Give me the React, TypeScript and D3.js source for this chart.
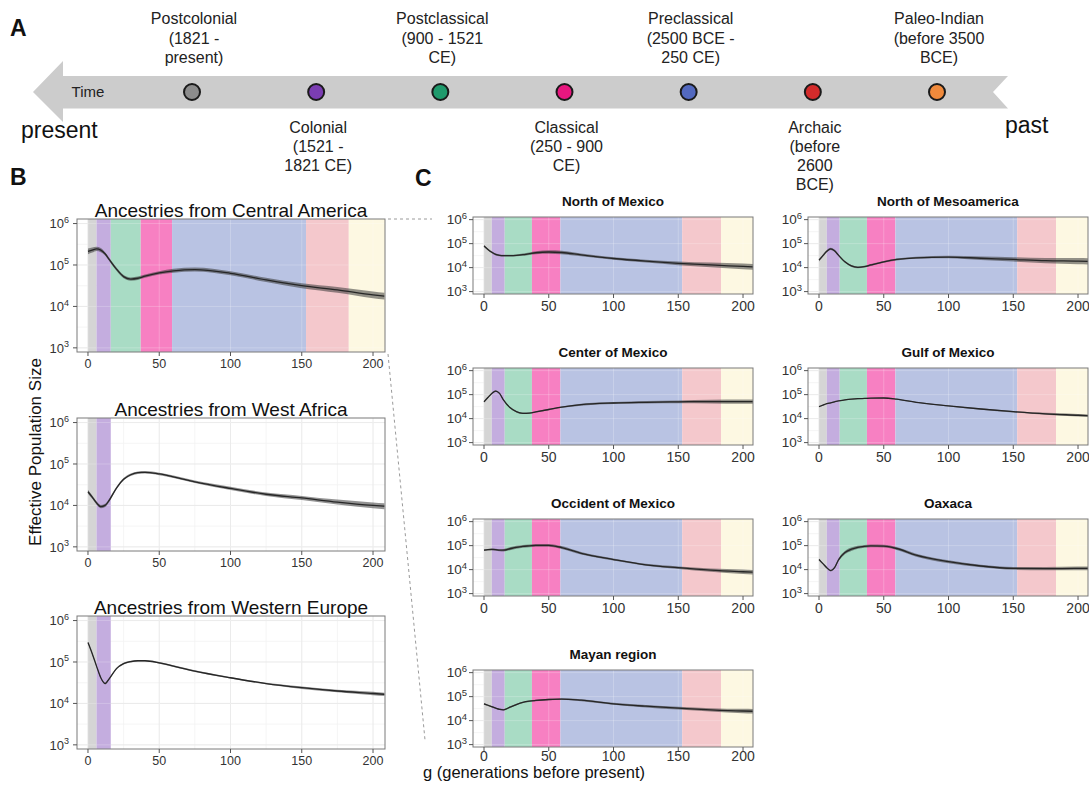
import React from 'react';
import * as d3 from 'd3';

// ---------------- DATA ----------------
const GENS = [0, 3, 6, 9, 12, 15, 20, 25, 30, 35, 40, 50, 60, 75, 100, 125, 150, 175, 200, 208];

const periodLabels = [
  ['Postcolonial', '(1821 -', 'present)'],
  ['Colonial', '(1521 -', '1821 CE)'],
  ['Postclassical', '(900 - 1521', 'CE)'],
  ['Classical', '(250 - 900', 'CE)'],
  ['Preclassical', '(2500 BCE -', '250 CE)'],
  ['Archaic', '(before', '2600', 'BCE)'],
  ['Paleo-Indian', '(before 3500', 'BCE)'],
];
const periodDotColors = ['#8c8c8c', '#7b3db2', '#1f9a6c', '#e8177f', '#5369bf', '#d42b2b', '#f08a3c'];
const periodBandColors = ['#d5d5d5', '#c4addf', '#a9dcc5', '#f780c2', '#b9c3e3', '#f4c8cc', '#fdf8e2'];
const periodStartGen = [0, 6, 16, 37, 59, 153, 183];
const periodEndGen = [6, 16, 37, 59, 153, 183, 1000];

const xTicks = [0, 50, 100, 150, 200];
const yTickExp = [3, 4, 5, 6];

// log10 effective population size
const logNeCentralAmerica = [5.33, 5.36, 5.39, 5.36, 5.27, 5.13, 4.9, 4.72, 4.66, 4.68, 4.73, 4.81, 4.86, 4.89, 4.8, 4.64, 4.5, 4.4, 4.28, 4.25];
const logNeWestAfrica = [4.33, 4.2, 4.06, 3.97, 4.0, 4.13, 4.42, 4.63, 4.74, 4.79, 4.8, 4.76, 4.69, 4.57, 4.41, 4.27, 4.18, 4.08, 4.0, 3.98];
const logNeWesternEurope = [5.47, 5.2, 4.9, 4.62, 4.48, 4.6, 4.84, 4.96, 5.01, 5.03, 5.03, 4.98, 4.9, 4.78, 4.62, 4.48, 4.38, 4.3, 4.24, 4.22];
const logNeNorthMexico = [4.9, 4.76, 4.64, 4.55, 4.51, 4.5, 4.5, 4.51, 4.54, 4.58, 4.62, 4.65, 4.63, 4.53, 4.38, 4.27, 4.18, 4.11, 4.05, 4.03];
const logNeNorthMeso = [4.31, 4.5, 4.68, 4.78, 4.7, 4.52, 4.24, 4.07, 4.01, 4.04, 4.11, 4.24, 4.34, 4.41, 4.44, 4.39, 4.34, 4.29, 4.27, 4.26];
const logNeCenter = [4.7, 4.88, 5.05, 5.15, 5.05, 4.78, 4.46, 4.29, 4.22, 4.23, 4.28, 4.38, 4.48, 4.58, 4.65, 4.68, 4.7, 4.71, 4.71, 4.71];
const logNeGulf = [4.5, 4.56, 4.62, 4.66, 4.7, 4.74, 4.78, 4.81, 4.83, 4.84, 4.85, 4.86, 4.81, 4.68, 4.53, 4.4, 4.29, 4.2, 4.14, 4.12];
const logNeOccident = [4.81, 4.83, 4.84, 4.83, 4.81, 4.81, 4.87, 4.93, 4.97, 4.99, 5.01, 5.01, 4.92, 4.68, 4.42, 4.2, 4.08, 3.98, 3.91, 3.89];
const logNeOaxaca = [4.42, 4.25, 4.08, 3.96, 4.08, 4.4, 4.71, 4.85, 4.93, 4.97, 4.99, 4.98, 4.88, 4.6, 4.33, 4.15, 4.05, 4.04, 4.05, 4.05];
const logNeMayan = [4.7, 4.64, 4.58, 4.52, 4.47, 4.45, 4.56, 4.67, 4.76, 4.81, 4.84, 4.88, 4.9, 4.85, 4.7, 4.6, 4.52, 4.45, 4.4, 4.39];

// half width of the confidence ribbon (log10 units)
const ciCentralAmerica = [0.07, 0.06, 0.05, 0.05, 0.04, 0.04, 0.04, 0.04, 0.04, 0.04, 0.04, 0.04, 0.05, 0.05, 0.05, 0.05, 0.06, 0.07, 0.08, 0.08];
const ciWestAfrica = [0.05, 0.04, 0.04, 0.04, 0.04, 0.04, 0.03, 0.03, 0.03, 0.03, 0.03, 0.03, 0.03, 0.03, 0.04, 0.04, 0.05, 0.06, 0.07, 0.07];
const ciWesternEurope = [0.02, 0.02, 0.02, 0.02, 0.02, 0.02, 0.02, 0.02, 0.02, 0.02, 0.02, 0.02, 0.02, 0.02, 0.02, 0.02, 0.03, 0.03, 0.04, 0.04];
const ciNorthMexico = [0.04, 0.04, 0.04, 0.04, 0.04, 0.04, 0.04, 0.04, 0.05, 0.05, 0.06, 0.07, 0.07, 0.06, 0.05, 0.06, 0.08, 0.1, 0.12, 0.12];
const ciNorthMeso = [0.05, 0.05, 0.05, 0.05, 0.05, 0.04, 0.04, 0.04, 0.04, 0.04, 0.04, 0.04, 0.04, 0.04, 0.05, 0.07, 0.09, 0.11, 0.13, 0.13];
const ciCenter = [0.03, 0.03, 0.03, 0.03, 0.03, 0.03, 0.03, 0.03, 0.03, 0.03, 0.03, 0.03, 0.03, 0.04, 0.04, 0.05, 0.06, 0.08, 0.09, 0.09];
const ciGulf = [0.02, 0.02, 0.02, 0.02, 0.02, 0.02, 0.02, 0.02, 0.02, 0.02, 0.02, 0.02, 0.02, 0.02, 0.02, 0.03, 0.03, 0.04, 0.05, 0.05];
const ciOccident = [0.03, 0.03, 0.04, 0.04, 0.04, 0.05, 0.06, 0.06, 0.06, 0.06, 0.06, 0.06, 0.06, 0.05, 0.04, 0.04, 0.05, 0.07, 0.09, 0.09];
const ciOaxaca = [0.04, 0.03, 0.03, 0.03, 0.04, 0.06, 0.07, 0.07, 0.06, 0.06, 0.06, 0.06, 0.06, 0.06, 0.06, 0.05, 0.06, 0.07, 0.08, 0.08];
const ciMayan = [0.03, 0.03, 0.03, 0.03, 0.03, 0.03, 0.03, 0.03, 0.03, 0.03, 0.03, 0.03, 0.03, 0.04, 0.04, 0.05, 0.06, 0.07, 0.09, 0.09];

const bTitles = ['Ancestries from Central America', 'Ancestries from West Africa', 'Ancestries from Western Europe'];
const bSeries = [logNeCentralAmerica, logNeWestAfrica, logNeWesternEurope];
const bCI = [ciCentralAmerica, ciWestAfrica, ciWesternEurope];
const bBandCount = [7, 2, 2];

const cTitles = ['North of Mexico', 'North of Mesoamerica', 'Center of Mexico', 'Gulf of Mexico', 'Occident of Mexico', 'Oaxaca', 'Mayan region'];
const cSeries = [logNeNorthMexico, logNeNorthMeso, logNeCenter, logNeGulf, logNeOccident, logNeOaxaca, logNeMayan];
const cCI = [ciNorthMexico, ciNorthMeso, ciCenter, ciGulf, ciOccident, ciOaxaca, ciMayan];

// ---------------- RENDER ----------------
const FONT = 'Liberation Sans, Arial, Helvetica, sans-serif';

type PanelProps = {
  id: string;
  x: number; y: number; w: number; h: number;
  xDomain: [number, number];
  title: string; titleSize: number; titleWeight: string; titleGap: number;
  series: number[]; ci: number[]; bands: number;
  yLabSize: number; supSize: number; xLabSize: number; xLabGap: number; yLabGap: number;
};

function Panel(p: PanelProps) {
  const xs = d3.scaleLinear().domain(p.xDomain).range([p.x, p.x + p.w]);
  const ys = d3.scaleLog().domain([10 ** 2.9, 10 ** 6.11]).range([p.y + p.h, p.y]);
  const pts = GENS.map((g, i) => ({ g, v: p.series[i], c: p.ci[i] }));
  const line = d3.line<any>().x(d => xs(d.g)).y(d => ys(10 ** d.v)).curve(d3.curveMonotoneX);
  const area = d3.area<any>().x(d => xs(d.g)).y0(d => ys(10 ** (d.v - d.c))).y1(d => ys(10 ** (d.v + d.c))).curve(d3.curveMonotoneX);
  const xMinor = [25, 75, 125, 175];
  const yMinor = [3.5, 4.5, 5.5];
  const [dx0, dx1] = p.xDomain;
  return (
    <g>
      <defs>
        <clipPath id={p.id}>
          <rect x={p.x} y={p.y} width={p.w} height={p.h} />
        </clipPath>
      </defs>
      <rect x={p.x} y={p.y} width={p.w} height={p.h} fill="#ffffff" />
      <g clipPath={`url(#${p.id})`}>
        {xMinor.map(t => <line key={'xm' + t} x1={xs(t)} x2={xs(t)} y1={p.y} y2={p.y + p.h} stroke="#f3f3f3" strokeWidth={0.8} />)}
        {yMinor.map(t => <line key={'ym' + t} x1={p.x} x2={p.x + p.w} y1={ys(10 ** t)} y2={ys(10 ** t)} stroke="#f3f3f3" strokeWidth={0.8} />)}
        {xTicks.map(t => <line key={'xg' + t} x1={xs(t)} x2={xs(t)} y1={p.y} y2={p.y + p.h} stroke="#e6e6e6" strokeWidth={1} />)}
        {yTickExp.map(t => <line key={'yg' + t} x1={p.x} x2={p.x + p.w} y1={ys(10 ** t)} y2={ys(10 ** t)} stroke="#e6e6e6" strokeWidth={1} />)}
        {periodBandColors.slice(0, p.bands).map((c, i) => {
          const a = Math.max(periodStartGen[i], dx0);
          const b = Math.min(periodEndGen[i], dx1);
          return <rect key={'b' + i} x={xs(a)} y={p.y} width={xs(b) - xs(a)} height={p.h} fill={c} />;
        })}
        {xTicks.map(t => <line key={'xo' + t} x1={xs(t)} x2={xs(t)} y1={p.y} y2={p.y + p.h} stroke="#ffffff" strokeOpacity={0.22} strokeWidth={1} />)}
        {yTickExp.map(t => <line key={'yo' + t} x1={p.x} x2={p.x + p.w} y1={ys(10 ** t)} y2={ys(10 ** t)} stroke="#ffffff" strokeOpacity={0.22} strokeWidth={1} />)}
        <path d={area(pts) || ''} fill="#3a3a3a" fillOpacity={0.55} />
        <path d={line(pts) || ''} fill="none" stroke="#262626" strokeWidth={1.3} />
      </g>
      <rect x={p.x} y={p.y} width={p.w} height={p.h} fill="none" stroke="#7a7a7a" strokeWidth={1} />
      {yTickExp.map(t => (
        <g key={'yt' + t}>
          <line x1={p.x - 4} x2={p.x} y1={ys(10 ** t)} y2={ys(10 ** t)} stroke="#555" strokeWidth={1} />
          <text x={p.x - p.yLabGap} y={ys(10 ** t) + p.yLabSize * 0.36} textAnchor="end" fontFamily={FONT} fontSize={p.yLabSize} fill="#333">
            10<tspan dy={-p.yLabSize * 0.42} fontSize={p.supSize}>{t}</tspan>
          </text>
        </g>
      ))}
      {xTicks.map(t => (
        <g key={'xt' + t}>
          <line x1={xs(t)} x2={xs(t)} y1={p.y + p.h} y2={p.y + p.h + 4} stroke="#555" strokeWidth={1} />
          <text x={xs(t)} y={p.y + p.h + p.xLabGap} textAnchor="middle" fontFamily={FONT} fontSize={p.xLabSize} fill="#333">{t}</text>
        </g>
      ))}
      <text x={p.x + p.w / 2} y={p.y - p.titleGap} textAnchor="middle" fontFamily={FONT} fontSize={p.titleSize} fontWeight={p.titleWeight} fill="#111">{p.title}</text>
    </g>
  );
}

export default function App() {
  const W = 1089, H = 788;
  // timeline
  const tx = d3.scalePoint<number>().domain(d3.range(periodLabels.length)).range([192, 937]);
  const bandTop = 76, bandBot = 108.5, bandMid = 92;
  const arrow = [
    [33, bandMid], [63, 61], [63, bandTop], [1008, bandTop], [993, bandMid], [1008, bandBot], [63, bandBot], [63, 122],
  ];
  const bY = [219, 418, 616];
  const cRowY = [217, 368, 519, 670];
  const cColX = [473, 808];

  return (
    <svg width={W} height={H} style={{ position: 'absolute', left: 0, top: 0, background: '#fff' }} fontFamily={FONT}>
      <rect width={W} height={H} fill="#fff" />
      {/* Panel A */}
      <text x={10} y={36} fontSize={23} fontWeight="bold" fill="#111">A</text>
      <polygon points={arrow.map(d => d.join(',')).join(' ')} fill="#cccccc" />
      <text x={88} y={bandMid + 5} fontSize={15} textAnchor="middle" fill="#222">Time</text>
      <text x={21} y={138} fontSize={23} fill="#111">present</text>
      <text x={1005} y={133} fontSize={23} fill="#111">past</text>
      {periodLabels.map((lines, i) => {
        const cx = tx(i) as number;
        const above = i % 2 === 0;
        return (
          <g key={'p' + i}>
            <circle cx={cx} cy={bandMid} r={8} fill={periodDotColors[i]} stroke="#1a1a1a" strokeWidth={2} />
            {lines.map((s, j) => {
              const yy = above ? 63 - (lines.length - 1 - j) * 19.5 : 133 + j * 19;
              return <text key={j} x={cx + 2} y={yy} textAnchor="middle" fontSize={16} fill="#222">{s}</text>;
            })}
          </g>
        );
      })}

      {/* Panel B */}
      <text x={10} y={185} fontSize={23} fontWeight="bold" fill="#111">B</text>
      {bTitles.map((t, i) => (
        <Panel key={t} id={'clipB' + i} x={77} y={bY[i]} w={308} h={133} xDomain={[-7.7, 208.4]}
          title={t} titleSize={19} titleWeight="normal" titleGap={2}
          series={bSeries[i]} ci={bCI[i]} bands={bBandCount[i]}
          yLabSize={13} supSize={9} xLabSize={12.5} xLabGap={16} yLabGap={8} />
      ))}
      <text transform="translate(41,452) rotate(-90)" textAnchor="middle" fontSize={17} fill="#111">Effective Population Size</text>

      {/* dashed connectors */}
      <line x1={388} y1={219} x2={432} y2={219} stroke="#9a9a9a" strokeDasharray="3,3" strokeWidth={1} />
      <line x1={388} y1={354} x2={425} y2={740} stroke="#9a9a9a" strokeDasharray="3,3" strokeWidth={1} />

      {/* Panel C */}
      <text x={415} y={186} fontSize={23} fontWeight="bold" fill="#111">C</text>
      {cTitles.map((t, i) => (
        <Panel key={t} id={'clipC' + i} x={cColX[i % 2]} y={cRowY[Math.floor(i / 2)]} w={280} h={77} xDomain={[-8.5, 207.7]}
          title={t} titleSize={13.5} titleWeight="bold" titleGap={11}
          series={cSeries[i]} ci={cCI[i]} bands={7}
          yLabSize={13.5} supSize={9.5} xLabSize={14} xLabGap={i === 6 ? 14 : 17} yLabGap={6} />
      ))}
      <text x={423} y={778} fontSize={16.5} fill="#111">g (generations before present)</text>
    </svg>
  );
}
